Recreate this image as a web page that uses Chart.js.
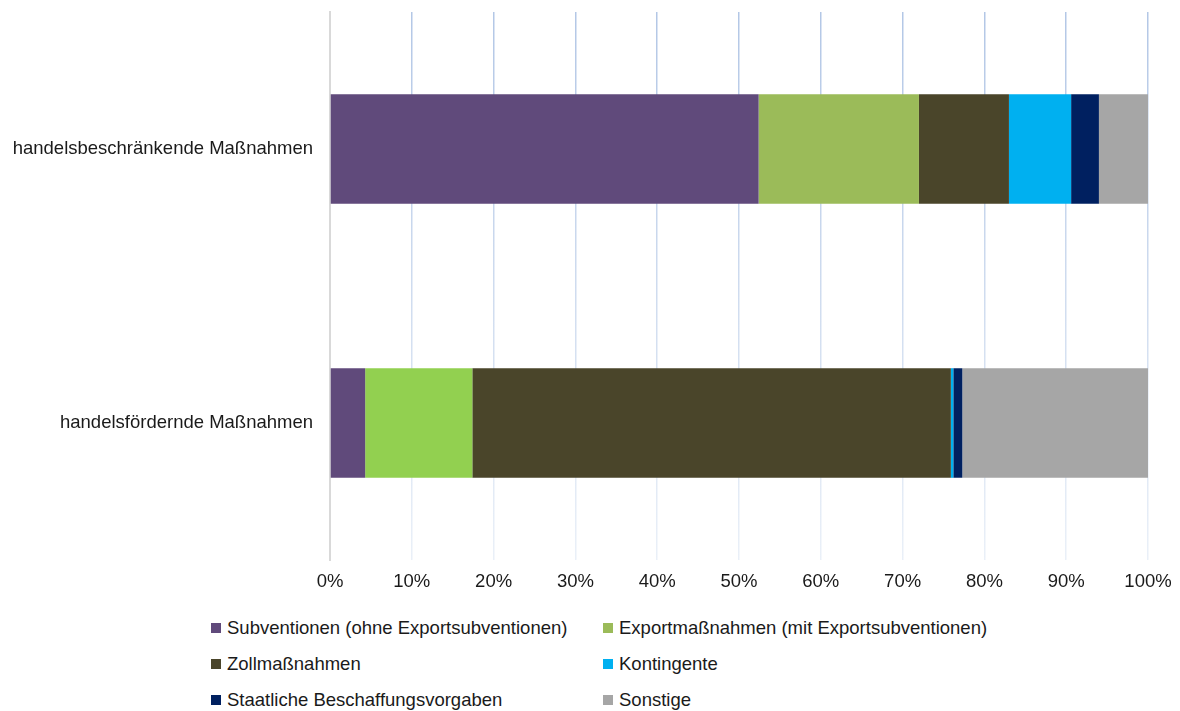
<!DOCTYPE html>
<html>
<head>
<meta charset="utf-8">
<script src="https://cdn.jsdelivr.net/npm/chart.js@4/dist/chart.umd.min.js"></script>
<style>
    body { margin: 0; background: #fff; font-family: "Liberation Sans", Arial, sans-serif; }
    #wrap { position: relative; width: 1180px; height: 711px; }
    #chart-box { position: absolute; left: 0; top: 0; width: 1180px; height: 600px; }
    #legend { position: absolute; left: 211px; top: 610px; display: grid; grid-template-columns: 392px 400px; row-gap: 0; }
    .leg-item { display: flex; align-items: center; height: 36px; font-size: 18.5px; color: #1a1a1a; white-space: nowrap; }
    .leg-box { width: 10px; height: 10px; margin-right: 6px; flex: none; }
</style>
</head>
<body>
<div id="wrap">
    <div id="chart-box"><canvas id="bar-chart" width="1180" height="600"></canvas></div>
    <div id="legend"></div>
</div>
<script>
// categories and series (share in %)
const categories = ['handelsbeschränkende Maßnahmen', 'handelsfördernde Maßnahmen'];
const seriesNames = [
    'Subventionen (ohne Exportsubventionen)',
    'Exportmaßnahmen (mit Exportsubventionen)',
    'Zollmaßnahmen',
    'Kontingente',
    'Staatliche Beschaffungsvorgaben',
    'Sonstige'
];
const subventionen = [52.4, 4.3];
const exportMassnahmen = [19.6, 13.1];
const zollMassnahmen = [11.0, 58.5];
const kontingente = [7.6, 0.3];
const beschaffung = [3.4, 1.1];
const sonstige = [6.0, 22.7];
const xTicks = [0, 10, 20, 30, 40, 50, 60, 70, 80, 90, 100];

const colors = ['#604a7b', '#9bbb59', '#4a452a', '#00b0f0', '#002060', '#a6a6a6'];
// the second bar uses a brighter green for the export segment
const barColors = [
    ['#604a7b', '#604a7b'],
    ['#9bbb59', '#92d050'],
    ['#4a452a', '#4a452a'],
    ['#00b0f0', '#00b0f0'],
    ['#002060', '#002060'],
    ['#a6a6a6', '#a6a6a6']
];
const allValues = [subventionen, exportMassnahmen, zollMassnahmen, kontingente, beschaffung, sonstige];

const gridColor = (ctx) => {
    if (ctx.index === 0) return 'rgba(0,0,0,0)';
    const area = ctx.chart.chartArea;
    if (!area) return '#c6d5ea';
    const g = ctx.chart.ctx.createLinearGradient(0, area.top, 0, area.bottom);
    g.addColorStop(0, '#b3c7e6');
    g.addColorStop(1, '#eaf0f8');
    return g;
};

new Chart(document.getElementById('bar-chart'), {
    type: 'bar',
    data: {
        labels: categories,
        datasets: seriesNames.map((name, i) => ({
            label: name,
            data: allValues[i],
            backgroundColor: barColors[i],
            borderWidth: 0,
            barPercentage: 0.4,
            categoryPercentage: 1.0
        }))
    },
    options: {
        indexAxis: 'y',
        responsive: false,
        animation: false,
        layout: { padding: { top: 12, right: 32, left: 0, bottom: 0 } },
        plugins: { legend: { display: false }, tooltip: { enabled: false } },
        scales: {
            x: {
                stacked: true,
                min: 0,
                max: 100,
                afterBuildTicks: (scale) => { scale.ticks = xTicks.map(v => ({ value: v })); },
                afterFit: (scale) => {
                    scale.height = 40;
                    scale.paddingLeft = 0;
                    scale.paddingRight = 0;
                },
                grid: { color: gridColor, lineWidth: 1.5, drawTicks: false },
                border: { display: false },
                ticks: {
                    padding: 11,
                    color: '#1a1a1a',
                    font: { family: 'Liberation Sans', size: 18.5 },
                    callback: (v) => v + '%'
                }
            },
            y: {
                stacked: true,
                afterFit: (scale) => {
                    scale.width = 330;
                    scale.paddingTop = 0;
                    scale.paddingBottom = 0;
                },
                grid: { display: false },
                border: { display: true, color: '#d9d9d9', width: 2 },
                ticks: {
                    padding: 9,
                    color: '#1a1a1a',
                    font: { family: 'Liberation Sans', size: 18.5 }
                }
            }
        }
    }
});

// legend in two columns, built from the series
const legend = document.getElementById('legend');
seriesNames.forEach((name, i) => {
    const item = document.createElement('div');
    item.className = 'leg-item';
    item.innerHTML = `<span class="leg-box" style="background:${colors[i]}"></span>${name}`;
    legend.appendChild(item);
});
</script>
</body>
</html>
